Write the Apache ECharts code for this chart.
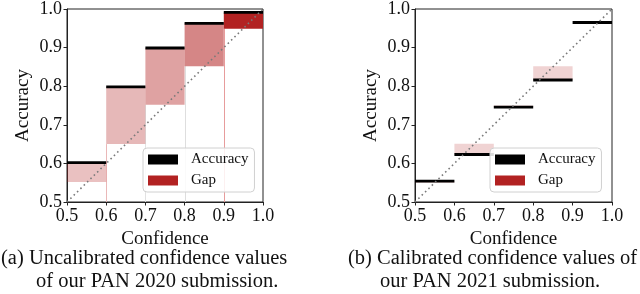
<!DOCTYPE html>
<html>
<head>
<meta charset="utf-8">
<script src="https://cdn.jsdelivr.net/npm/echarts@6/dist/echarts.min.js"></script>
<style>
html,body{margin:0;padding:0;background:#fff;}
#c{width:640px;height:294px;}
</style>
</head>
<body>
<div id="c"></div>
<script>
// ---- data ----
const binEdges = [0.5, 0.6, 0.7, 0.8, 0.9, 1.0];
const tickValues = [0.5, 0.6, 0.7, 0.8, 0.9, 1.0];
// (a) uncalibrated PAN 2020
const accA  = [0.602, 0.798, 0.899, 0.963, 0.991];
const confA = [0.552, 0.650, 0.752, 0.852, 0.949];
// (b) calibrated PAN 2021
const accB  = [0.554, 0.623, 0.746, 0.816, 0.965];
const confB = [0.550, 0.651, 0.750, 0.852, 0.950];
const legendNames = ['Accuracy', 'Gap'];
const captionA = ['(a) Uncalibrated confidence values', 'of our PAN 2020 submission.'];
const captionB = ['(b) Calibrated confidence values of', 'our PAN 2021 submission.'];

// ---- styles ----
const gapAlphaA = [0.28, 0.32, 0.42, 0.55, 1.0];
const gapAlphaB = [0.2, 0.2, 0.2, 0.2, 0.0];
const edgeColorsA = ['#eab8b8', '#e2e2e2', '#dedede', '#e79c9c'];
const FONT = 'Liberation Serif';
const RED = '#b22222';

function gapData(acc, conf) {
  return acc.map((a, i) => [binEdges[i], binEdges[i + 1], Math.min(a, conf[i]), Math.max(a, conf[i])]);
}
function accData(acc) {
  return acc.map((a, i) => [binEdges[i], binEdges[i + 1], a]);
}
function edgeData(conf) {
  return conf.slice(1).map((c, i) => [binEdges[i + 1], c]);
}

function rectRender(alphas) {
  return function (params, api) {
    const p0 = api.coord([api.value(0), api.value(3)]);
    const p1 = api.coord([api.value(1), api.value(2)]);
    return {
      type: 'rect',
      shape: { x: p0[0], y: p0[1], width: p1[0] - p0[0], height: p1[1] - p0[1] },
      style: { fill: RED, opacity: alphas[params.dataIndex] }
    };
  };
}
function lineRender(params, api) {
  const p0 = api.coord([api.value(0), api.value(2)]);
  const p1 = api.coord([api.value(1), api.value(2)]);
  return {
    type: 'line',
    shape: { x1: p0[0], y1: p0[1], x2: p1[0], y2: p1[1] },
    style: { stroke: '#000', lineWidth: 2.8 }
  };
}
function edgeRender(params, api) {
  const p0 = api.coord([api.value(0), 0.5]);
  const p1 = api.coord([api.value(0), api.value(1)]);
  const x = Math.round(p0[0]) + 0.5;
  return {
    type: 'line',
    shape: { x1: x, y1: p0[1], x2: x, y2: p1[1] },
    style: { stroke: edgeColorsA[params.dataIndex], lineWidth: 1 }
  };
}

function axisCommon(idx) {
  return {
    type: 'value', min: 0.5, max: 1.0, interval: 0.1,
    gridIndex: idx,
    axisLine: { show: true, lineStyle: { color: '#222', width: 1 } },
    axisTick: { show: true, length: 3.5, lineStyle: { color: '#222' } },
    splitLine: { show: false },
    axisLabel: { fontFamily: FONT, fontSize: 18, color: '#111', margin: 5,
      formatter: v => v.toFixed(1) },
    nameTextStyle: { fontFamily: FONT, fontSize: 19, color: '#111' },
    nameLocation: 'middle'
  };
}

const grids = [
  { left: 67, top: 5, width: 196, height: 197, show: true, borderColor: '#222', borderWidth: 1, backgroundColor: 'transparent' },
  { left: 415, top: 5, width: 197, height: 197, show: true, borderColor: '#222', borderWidth: 1, backgroundColor: 'transparent' }
];

const xAxes = [0, 1].map(i => Object.assign(axisCommon(i), { name: 'Confidence', nameGap: 23 }));
const yAxes = [0, 1].map(i => Object.assign(axisCommon(i), { name: 'Accuracy', nameGap: 34 }));

function diag(idx) {
  return {
    type: 'line', xAxisIndex: idx, yAxisIndex: idx, z: 5,
    data: [[0.5, 0.5], [1.0, 1.0]], symbol: 'none', silent: true,
    lineStyle: { color: '#7a7a7a', width: 1.6, type: [1.6, 3.1] }
  };
}

const series = [
  { type: 'custom', name: 'Edges', xAxisIndex: 0, yAxisIndex: 0, z: 1, renderItem: edgeRender, data: edgeData(confA), silent: true },
  { type: 'custom', name: 'Gap', xAxisIndex: 0, yAxisIndex: 0, z: 2, renderItem: rectRender(gapAlphaA), data: gapData(accA, confA), itemStyle: { color: RED } },
  { type: 'custom', name: 'Accuracy', xAxisIndex: 0, yAxisIndex: 0, z: 3, renderItem: lineRender, data: accData(accA), itemStyle: { color: '#000' } },
  diag(0),
  { type: 'custom', name: 'Gap', xAxisIndex: 1, yAxisIndex: 1, z: 2, renderItem: rectRender(gapAlphaB), data: gapData(accB, confB), itemStyle: { color: RED } },
  { type: 'custom', name: 'Accuracy', xAxisIndex: 1, yAxisIndex: 1, z: 3, renderItem: lineRender, data: accData(accB), itemStyle: { color: '#000' } },
  diag(1)
];

function legend(left) {
  return {
    left: left, top: 148, orient: 'vertical', z: 10,
    data: legendNames.map(n => ({ name: n, icon: 'rect' })),
    itemWidth: 30, itemHeight: 10, itemGap: 4,
    padding: [3, 6, 3, 5],
    backgroundColor: 'rgba(255,255,255,0.85)',
    borderColor: '#d0d0d0', borderWidth: 1, borderRadius: 4,
    textStyle: { fontFamily: FONT, fontSize: 15, color: '#111', lineHeight: 17, padding: [0, 0, 0, 8] },
    selectedMode: false
  };
}

function captionText(lines, x1, x2) {
  const f = '20.5px "' + FONT + '"';
  return [
    { type: 'text', left: x1, top: 248, style: { text: lines[0], font: f, fill: '#111' } },
    { type: 'text', left: x2, top: 271, style: { text: lines[1], font: f, fill: '#111' } }
  ];
}

const chart = echarts.init(document.getElementById('c'), null, { renderer: 'canvas' });
chart.setOption({
  animation: false,
  grid: grids,
  xAxis: xAxes,
  yAxis: yAxes,
  legend: [legend(143), legend(490)],
  series: series,
  graphic: captionText(captionA, 1, 36).concat(captionText(captionB, 348, 380))
});
</script>
</body>
</html>
